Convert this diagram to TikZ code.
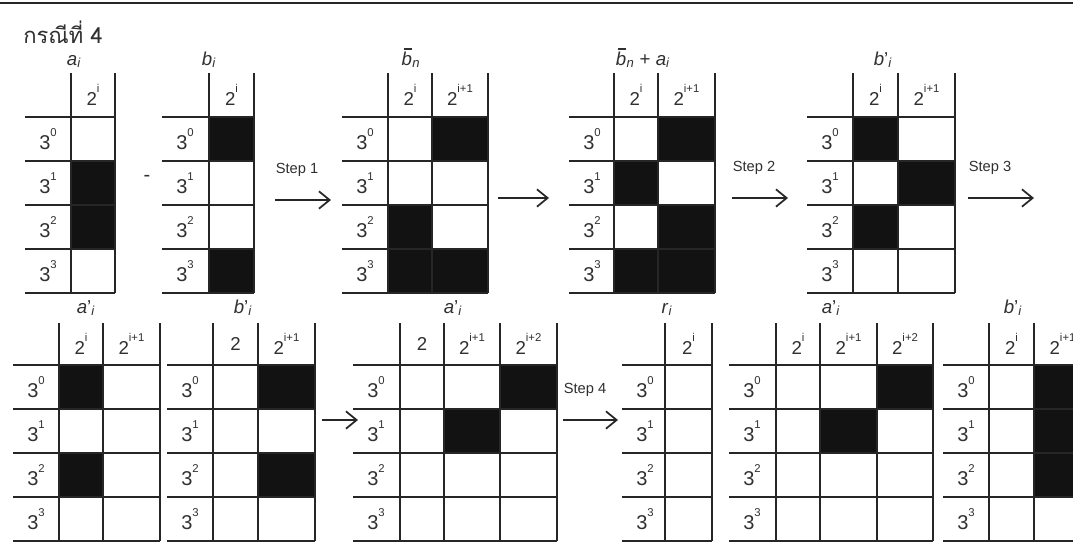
\documentclass[tikz,border=0pt]{standalone}
\usepackage{fontspec}
\setmainfont{Liberation Sans}
\newfontfamily\thaifont[Script=Thai]{Loma}
\usetikzlibrary{arrows.meta,positioning,calc}
\definecolor{gridInk}{HTML}{262626}
\definecolor{cellInk}{HTML}{121212}
\definecolor{textInk}{HTML}{303030}
\newcommand{\powr}[1]{\raisebox{0.66em}{\fontsize{8.5}{9}\selectfont #1}}
\newcommand{\primed}[2]{\textit{#1}\textquoteright\textsubscript{\textit{#2}}}
\newcommand{\barb}{\rlap{\textit{b}}\hspace{0.12em}\raisebox{0.82em}{\rule{0.42em}{0.9pt}}\hspace{0.03em}}
\newcommand{\gridlines}[4]{%
  \foreach \vx in {#4} {\xdef\gridend{\vx}}%
  \foreach \k in {0,...,4} \draw[gridrule] (#3,#2+44*\k) -- (\gridend,#2+44*\k);
  \foreach \vx in {#4} \draw[gridrule] (\vx,#1) -- (\vx,#2+176);
  \foreach \k in {0,...,3} \node[rowlabel] at (#3+23,#2+22+44*\k) {3\powr{\k}};
}
\newcommand{\blackcell}[4]{\fill[cellfill] (#1,#3+44*#4) rectangle (#2,#3+44*#4+44);}
\tikzset{
  gridrule/.style={draw=gridInk, line width=1.3pt},
  cellfill/.style={fill=cellInk},
  toprule/.style={draw=gridInk, line width=2pt},
  rowlabel/.style={font=\fontsize{15}{18}\selectfont, text=textInk, inner sep=0pt},
  colhead/.style={font=\fontsize{14}{17}\selectfont, text=textInk, inner sep=0pt},
  tablabel/.style={font=\fontsize{14}{17}\selectfont, text=textInk, inner sep=0pt, anchor=base},
  titletext/.style={font=\thaifont\fontsize{16.5}{19}\selectfont, text=textInk, inner sep=0pt, anchor=base west},
  steptext/.style={font=\fontsize{11}{13}\selectfont, text=textInk, inner sep=0pt, anchor=south west, yshift=17pt},
  steparrow/.style={-{Straight Barb[length=8pt, width=13pt]}, line width=1.3pt, draw=gridInk},
}
\begin{document}
\begin{tikzpicture}[x=0.75pt, y=-0.75pt]
  \fill[white] (0,0) rectangle (1073,551);
  \clip (0,0) rectangle (1073,551);
  \draw[toprule] (0,3) -- (1073,3);
  \node[titletext] (title) at (23,43) {กรณีที่ 4};

  \blackcell{71}{115}{117}{1}
  \blackcell{71}{115}{117}{2}
  \gridlines{73}{117}{25}{71,115}
  \node[colhead] (haI) at (93,95) {2\powr{i}};
  \node[tablabel] (ai) at (74,65) {\textit{a}\textsubscript{\textit{i}}};
  \node[rowlabel] (minus) at (147,178) {-};

  \blackcell{209}{254}{117}{0}
  \blackcell{209}{254}{117}{3}
  \gridlines{73}{117}{162}{209,254}
  \node[colhead] (hbI) at (231.5,95) {2\powr{i}};
  \node[tablabel] (bi) at (209,65) {\textit{b}\textsubscript{\textit{i}}};

  \blackcell{432}{488}{117}{0}
  \blackcell{388}{432}{117}{2}
  \blackcell{388}{488}{117}{3}
  \gridlines{73}{117}{342}{388,432,488}
  \node[colhead] (hbnI) at (410,95) {2\powr{i}};
  \node[colhead] (hbnII) at (460,95) {2\powr{i+1}};
  \node[tablabel] (bn) at (411,65) {\barb\textsubscript{\textit{n}}};

  \blackcell{614}{658}{117}{1}
  \blackcell{658}{715}{117}{0}
  \blackcell{658}{715}{117}{2}
  \blackcell{614}{715}{117}{3}
  \gridlines{73}{117}{569}{614,658,715}
  \node[colhead] (hsumI) at (636,95) {2\powr{i}};
  \node[colhead] (hsumII) at (686.5,95) {2\powr{i+1}};
  \node[tablabel] (bnai) at (643,65) {\barb\textsubscript{\textit{n}} + \textit{a}\textsubscript{\textit{i}}};

  \blackcell{853}{898}{117}{0}
  \blackcell{853}{898}{117}{2}
  \blackcell{898}{955}{117}{1}
  \gridlines{73}{117}{807}{853,898,955}
  \node[colhead] (hbpI) at (875.5,95) {2\powr{i}};
  \node[colhead] (hbpII) at (926.5,95) {2\powr{i+1}};
  \node[tablabel] (bpi) at (883,65) {\primed{b}{i}};

  \blackcell{59}{103}{365}{0}
  \blackcell{59}{103}{365}{2}
  \gridlines{323}{365}{13}{59,103,160}
  \node[colhead] (hapI) at (81,344) {2\powr{i}};
  \node[colhead] (hapII) at (131.5,344) {2\powr{i+1}};
  \node[tablabel] (api) at (86,313) {\primed{a}{i}};

  \blackcell{258}{315}{365}{0}
  \blackcell{258}{315}{365}{2}
  \gridlines{323}{365}{167}{213,258,315}
  \node[colhead] (hbqI) at (235.5,344) {2};
  \node[colhead] (hbqII) at (286.5,344) {2\powr{i+1}};
  \node[tablabel] (bqi) at (243,313) {\primed{b}{i}};

  \blackcell{500}{557}{365}{0}
  \blackcell{444}{500}{365}{1}
  \gridlines{323}{365}{353}{400,444,500,557}
  \node[colhead] (haqI) at (422,344) {2};
  \node[colhead] (haqII) at (472,344) {2\powr{i+1}};
  \node[colhead] (haqIII) at (528.5,344) {2\powr{i+2}};
  \node[tablabel] (aqi) at (453,313) {\primed{a}{i}};

  \gridlines{323}{365}{622}{665,712}
  \node[colhead] (hrI) at (688.5,344) {2\powr{i}};
  \node[tablabel] (ri) at (667,313) {\textit{r}\textsubscript{\textit{i}}};

  \blackcell{877}{933}{365}{0}
  \blackcell{820}{877}{365}{1}
  \gridlines{323}{365}{729}{776,820,877,933}
  \node[colhead] (harI) at (798,344) {2\powr{i}};
  \node[colhead] (harII) at (848.5,344) {2\powr{i+1}};
  \node[colhead] (harIII) at (905,344) {2\powr{i+2}};
  \node[tablabel] (ari) at (831,313) {\primed{a}{i}};

  \blackcell{1034}{1091}{365}{0}
  \blackcell{1034}{1091}{365}{1}
  \blackcell{1034}{1091}{365}{2}
  \gridlines{323}{365}{943}{989,1034,1091}
  \node[colhead] (hbrI) at (1011.5,344) {2\powr{i}};
  \node[colhead] (hbrII) at (1062.5,344) {2\powr{i+1}};
  \node[tablabel] (bri) at (1013,313) {\primed{b}{i}};

  \coordinate (s1from) at (275,200);
  \coordinate (s1to) at (331,200);
  \coordinate (s0from) at (498,198);
  \coordinate (s0to) at (549,198);
  \coordinate (s2from) at (732,198);
  \coordinate (s2to) at (788,198);
  \coordinate (s3from) at (968,198);
  \coordinate (s3to) at (1034,198);
  \coordinate (t0from) at (322,420);
  \coordinate (t0to) at (358,420);
  \coordinate (s4from) at (563,420);
  \coordinate (s4to) at (618,420);
  \draw[steparrow] (s1from) -- node[steptext, pos=0] {Step 1} (s1to);
  \draw[steparrow] (s0from) -- (s0to);
  \draw[steparrow] (s2from) -- node[steptext, pos=0] {Step 2} (s2to);
  \draw[steparrow] (s3from) -- node[steptext, pos=0] {Step 3} (s3to);
  \draw[steparrow] (t0from) -- (t0to);
  \draw[steparrow] (s4from) -- node[steptext, pos=0] {Step 4} (s4to);
\end{tikzpicture}
\end{document}
